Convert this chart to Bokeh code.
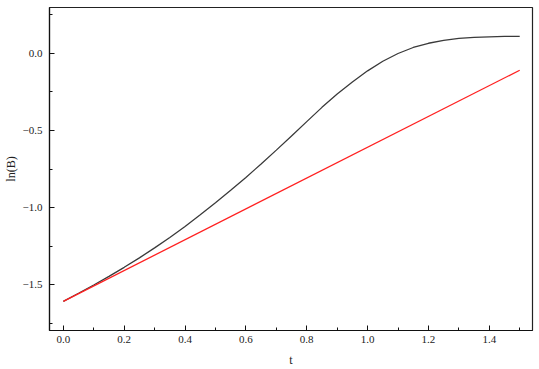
from bokeh.plotting import figure
from bokeh.models import Range1d, CustomJSTickFormatter, FixedTicker
from bokeh.embed import file_html
from bokeh.resources import INLINE

# black curve: ln(B)
t_black = [0.00, 0.05, 0.10, 0.15, 0.20, 0.25, 0.30, 0.35, 0.40, 0.45,
           0.50, 0.55, 0.60, 0.65, 0.70, 0.75, 0.80, 0.85, 0.90, 0.95,
           1.00, 1.05, 1.10, 1.15, 1.20, 1.25, 1.30, 1.35, 1.40, 1.45, 1.50]
lnB_black = [-1.609, -1.5565, -1.5025, -1.4465, -1.388, -1.3265, -1.262, -1.194, -1.1225, -1.0475,
             -0.9695, -0.8885, -0.8045, -0.7175, -0.6275, -0.5355, -0.4425, -0.350, -0.264, -0.185,
             -0.113, -0.0505, -0.0005, 0.0385, 0.066, 0.085, 0.097, 0.104, 0.108, 0.110, 0.111]

# red line: straight line
t_red = [0.0, 1.5]
lnB_red = [-1.609, -0.109]

x_ticks = [0.0, 0.2, 0.4, 0.6, 0.8, 1.0, 1.2, 1.4]
y_ticks = [-1.5, -1.0, -0.5, 0.0]
x_minor = [0.1, 0.3, 0.5, 0.7, 0.9, 1.1, 1.3, 1.5]
y_minor = [-1.75, -1.25, -0.75, -0.25, 0.25]

FONT = "'Times New Roman', 'Liberation Serif', serif"

p = figure(width=539, height=369, output_backend="svg", toolbar_location=None,
           x_range=Range1d(-0.0455, 1.542), y_range=Range1d(-1.798, 0.298),
           min_border_left=43, min_border_right=7, min_border_top=7, min_border_bottom=39)

p.line(t_black, lnB_black, line_color="#3a3a3a", line_width=1.3)
p.line(t_red, lnB_red, line_color="#ff2020", line_width=1.3)

p.xgrid.visible = False
p.ygrid.visible = False
p.background_fill_color = "white"
p.border_fill_color = "white"
p.outline_line_color = "#222222"
p.outline_line_width = 1.2

fmt = CustomJSTickFormatter(code="return tick.toFixed(1).replace('-', '\u2212');")
for ax, ticks, minor in ((p.xaxis[0], x_ticks, x_minor), (p.yaxis[0], y_ticks, y_minor)):
    ax.ticker = FixedTicker(ticks=ticks, minor_ticks=minor)
    ax.formatter = fmt
    ax.major_tick_in = 5
    ax.major_tick_out = 0
    ax.minor_tick_in = 3
    ax.minor_tick_out = 0
    ax.axis_line_color = "#111111"
    ax.axis_line_width = 1.2
    ax.major_tick_line_color = "#111111"
    ax.minor_tick_line_color = "#111111"
    ax.major_label_text_font = FONT
    ax.major_label_text_font_size = "11px"
    ax.major_label_text_color = "#222222"
    ax.axis_label_text_font = FONT
    ax.axis_label_text_font_size = "12px"
    ax.axis_label_text_font_style = "normal"
    ax.axis_label_text_color = "#222222"

p.xaxis.axis_label = "t"
p.yaxis.axis_label = "ln(B)"
p.xaxis.major_label_standoff = 5
p.xaxis.axis_label_standoff = 7
p.yaxis.major_label_standoff = 7
p.yaxis.axis_label_standoff = 2

open("out.html", "w").write(file_html(p, INLINE))
